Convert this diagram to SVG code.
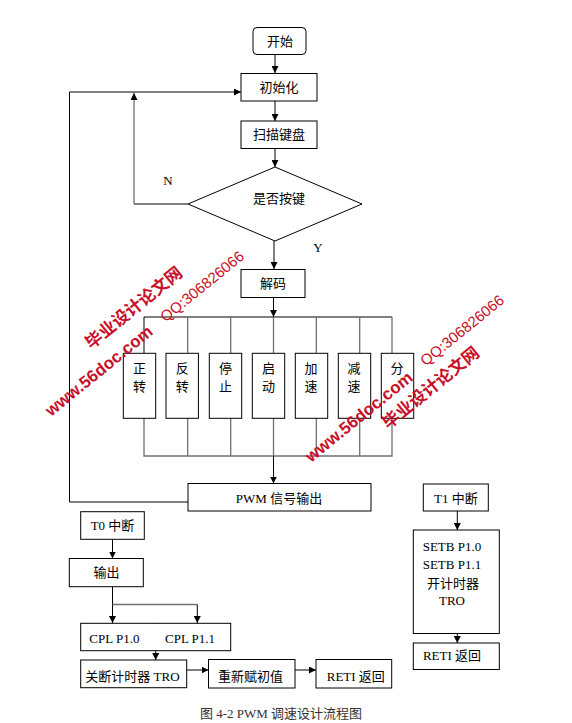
<svg xmlns="http://www.w3.org/2000/svg" width="572" height="723" viewBox="0 0 572 723">
<style>
.box{fill:#fff;stroke:#000;stroke-width:1}
.t{font-family:"Liberation Serif","Noto Sans CJK SC",serif;font-size:13px;fill:#000;dominant-baseline:central}
.m{text-anchor:middle}
.ln{fill:none;stroke:#000;stroke-width:1}
.gr{fill:none;stroke:#707070;stroke-width:1.3}
.wm{font-family:"Liberation Sans","Noto Sans CJK SC",sans-serif;fill:#c8102a;text-anchor:middle;dominant-baseline:central}
.cap{font-family:"Liberation Serif","Noto Sans CJK SC",serif;font-size:13px;fill:#333;text-anchor:middle;dominant-baseline:central}
</style>
<defs>
<marker id="ah" markerUnits="userSpaceOnUse" markerWidth="7" markerHeight="7" refX="7" refY="3.5" orient="auto">
<path d="M0,0 L7,3.5 L0,7 z" fill="#000"/>
</marker>
</defs>
<rect width="572" height="723" fill="#fff"/>

<g id="connectors">
<line class="ln" x1="275" y1="54" x2="275" y2="73" marker-end="url(#ah)"/>
<line class="ln" x1="275" y1="101" x2="275" y2="121" marker-end="url(#ah)"/>
<line class="ln" x1="275" y1="148" x2="275" y2="167" marker-end="url(#ah)"/>
<line class="ln" x1="274" y1="241" x2="274" y2="269" marker-end="url(#ah)"/>
<polyline class="ln" points="188,204 134,204"/>
<line class="gr" x1="134" y1="204" x2="134" y2="93" marker-end="url(#ah)"/>
<line class="ln" x1="273.5" y1="297" x2="273.5" y2="317" marker-end="url(#ah)"/>
<polyline class="ln" points="144,353 144,317 392,317"/>
<line class="gr" x1="392" y1="317" x2="392" y2="353"/>
<line class="gr" x1="187.7" y1="317" x2="187.7" y2="353"/>
<line class="gr" x1="230.7" y1="317" x2="230.7" y2="353"/>
<line class="gr" x1="273.5" y1="317" x2="273.5" y2="353"/>
<line class="gr" x1="316.3" y1="317" x2="316.3" y2="353"/>
<line class="gr" x1="359.7" y1="317" x2="359.7" y2="353"/>
<polyline class="gr" points="144,418 144,456 392,456 392,418"/>
<line class="gr" x1="187.7" y1="418" x2="187.7" y2="456"/>
<line class="gr" x1="230.7" y1="418" x2="230.7" y2="456"/>
<line class="gr" x1="273.5" y1="418" x2="273.5" y2="456"/>
<line class="gr" x1="316.3" y1="418" x2="316.3" y2="456"/>
<line class="gr" x1="359.7" y1="418" x2="359.7" y2="456"/>
<line class="ln" x1="273.5" y1="456" x2="273.5" y2="483.5" marker-end="url(#ah)"/>
<polyline class="ln" points="188,502 69.5,502 69.5,92 241,92" marker-end="url(#ah)"/>
<line class="ln" x1="112.5" y1="539.5" x2="112.5" y2="558.5" marker-end="url(#ah)"/>
<line class="ln" x1="112.5" y1="587" x2="112.5" y2="623" marker-end="url(#ah)"/>
<polyline class="gr" points="112.5,604.5 197.3,604.5"/>
<line class="ln" x1="197.3" y1="604.5" x2="197.3" y2="623" marker-end="url(#ah)"/>
<line class="ln" x1="155.7" y1="623" x2="155.7" y2="660" marker-end="url(#ah)"/>
<line class="ln" x1="187" y1="670" x2="208.5" y2="670" marker-end="url(#ah)"/>
<line class="ln" x1="295" y1="670" x2="316" y2="670" marker-end="url(#ah)"/>
<line class="ln" x1="457.3" y1="511" x2="457.3" y2="530" marker-end="url(#ah)"/>
<line class="ln" x1="457.3" y1="633.5" x2="457.3" y2="643" marker-end="url(#ah)"/>
</g>

<g id="start"><rect class="box" x="253" y="27.5" width="53" height="27" rx="4"/><text class="t m" x="280" y="41">开始</text></g>
<g id="init"><rect class="box" x="241" y="73.5" width="76" height="27.5"/><text class="t m" x="279" y="87">初始化</text></g>
<g id="scan"><rect class="box" x="241" y="121" width="76" height="27.5"/><text class="t m" x="279" y="134.5">扫描键盘</text></g>
<g id="decision"><polygon class="box" points="275,167 362,204 275,241 188,204"/><text class="t m" x="279" y="198.5">是否按键</text></g>
<g id="labelN"><text class="t m" x="168" y="180">N</text></g>
<g id="labelY"><text class="t m" x="318" y="247">Y</text></g>
<g id="decode"><rect class="box" x="241" y="269.5" width="64" height="28"/><text class="t m" x="273" y="283.5">解码</text></g>

<g id="fwd"><rect class="box" x="123.3" y="353.3" width="32.4" height="65"/><text class="t m" x="139.5" y="368.5">正</text><text class="t m" x="139.5" y="386.5">转</text></g>
<g id="rev"><rect class="box" x="166" y="353.3" width="32.4" height="65"/><text class="t m" x="182.2" y="368.5">反</text><text class="t m" x="182.2" y="386.5">转</text></g>
<g id="stop"><rect class="box" x="209.3" y="353.3" width="32.4" height="65"/><text class="t m" x="225.5" y="368.5">停</text><text class="t m" x="225.5" y="386.5">止</text></g>
<g id="run"><rect class="box" x="252.3" y="353.3" width="32.4" height="65"/><text class="t m" x="268.5" y="368.5">启</text><text class="t m" x="268.5" y="386.5">动</text></g>
<g id="acc"><rect class="box" x="295.3" y="353.3" width="32.4" height="65"/><text class="t m" x="311" y="368.5">加</text><text class="t m" x="311" y="386.5">速</text></g>
<g id="dec"><rect class="box" x="338.3" y="353.3" width="32.4" height="65"/><text class="t m" x="354" y="368.5">减</text><text class="t m" x="354" y="386.5">速</text></g>
<g id="gear"><rect class="box" x="381.3" y="353.3" width="32.4" height="65"/><text class="t m" x="397" y="368.5">分</text></g>

<g id="pwm"><rect class="box" x="188" y="483.5" width="183" height="27.5"/><text class="t m" x="279" y="498">PWM 信号输出</text></g>

<g id="t0"><rect class="box" x="80.7" y="511.7" width="63.6" height="27.6"/><text class="t m" x="112.5" y="525.5">T0 中断</text></g>
<g id="out"><rect class="box" x="69.3" y="558.5" width="74" height="28.2"/><text class="t m" x="106.5" y="572.7">输出</text></g>
<g id="cpl"><rect class="box" x="80.7" y="623.3" width="150" height="27.4"/><text class="t" x="89.3" y="638">CPL P1.0</text><text class="t" x="165" y="638">CPL P1.1</text></g>
<g id="stoptimer"><rect class="box" x="80.7" y="660" width="106" height="27.7"/><text class="t m" x="132.5" y="676">关断计时器 TRO</text></g>
<g id="reload"><rect class="box" x="208.5" y="659.5" width="86.5" height="28.5"/><text class="t m" x="250.5" y="676">重新赋初值</text></g>
<g id="reti0"><rect class="box" x="316" y="659.5" width="75.7" height="28.5"/><text class="t m" x="355.8" y="676">RETI 返回</text></g>

<g id="t1"><rect class="box" x="423.3" y="484" width="65" height="27"/><text class="t m" x="455.8" y="498.3">T1 中断</text></g>
<g id="setb"><rect class="box" x="413.3" y="530" width="86" height="103.5"/><text class="t" x="422.7" y="546">SETB P1.0</text><text class="t" x="422.7" y="564">SETB P1.1</text><text class="t m" x="453" y="583">开计时器</text><text class="t m" x="452" y="600.5">TRO</text></g>
<g id="reti1"><rect class="box" x="413.3" y="643" width="86" height="26.5"/><text class="t m" x="452" y="655.5">RETI 返回</text></g>

<g id="caption"><text class="cap" x="281" y="713">图 4-2 PWM 调速设计流程图</text></g>

<g id="watermarks">
<text class="wm" font-size="17" font-weight="bold" transform="translate(134,308) rotate(-39)">毕业设计论文网</text>
<text class="wm" font-size="15" transform="translate(202,286) rotate(-39)">QQ:306826066</text>
<text class="wm" font-size="17" font-weight="bold" transform="translate(99,371) rotate(-39)">www.56doc.com</text>
<text class="wm" font-size="15" transform="translate(462,330) rotate(-39)">QQ:306826066</text>
<text class="wm" font-size="17" font-weight="bold" transform="translate(359,417) rotate(-39)">www.56doc.com</text>
<text class="wm" font-size="17" font-weight="bold" transform="translate(431,388) rotate(-39)">毕业设计论文网</text>
</g>
</svg>
